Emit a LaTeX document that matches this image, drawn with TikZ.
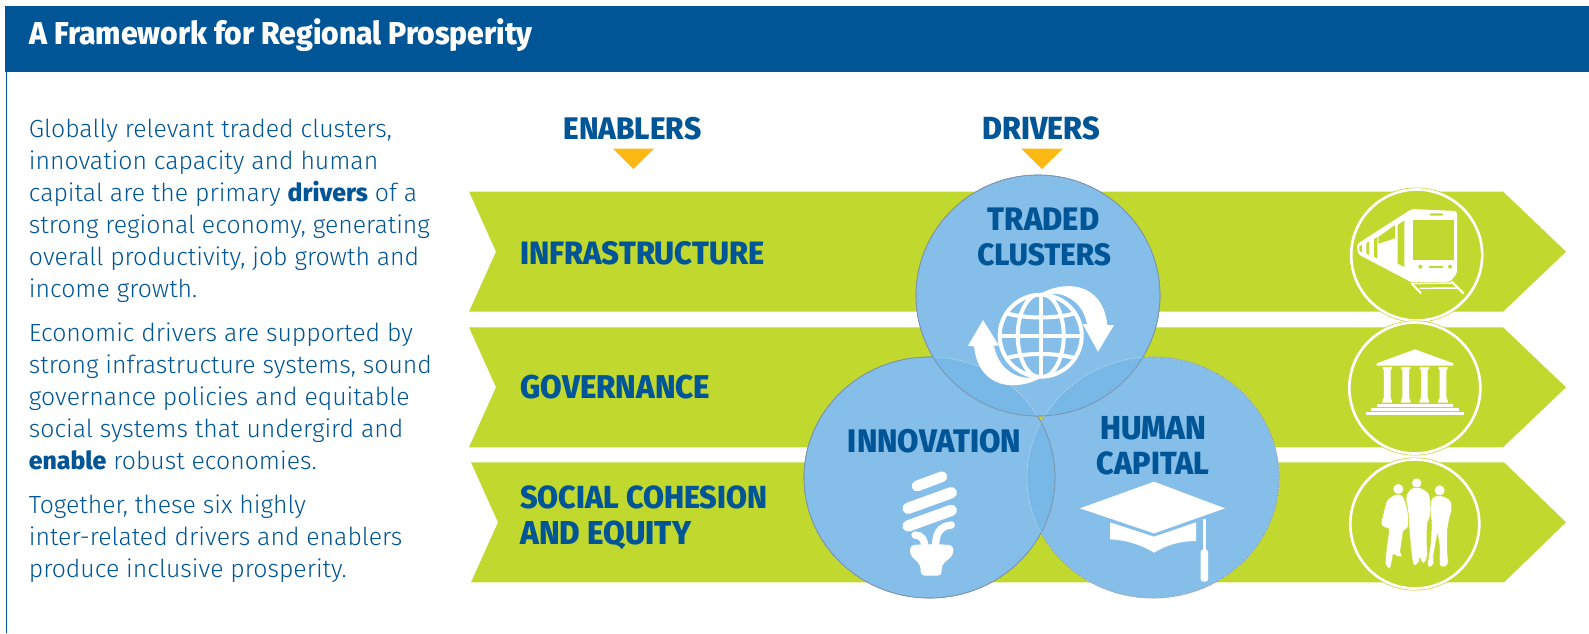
\documentclass[tikz,border=0pt]{standalone}
\usepackage{fontspec}
\setmainfont[BoldFont={Fira Sans ExtraBold}]{Fira Sans Light}
\newfontfamily\heavyfont{Fira Sans ExtraBold}
\definecolor{navy}{HTML}{005596}
\definecolor{lime}{HTML}{C1D82F}
\definecolor{sky}{HTML}{85BFE9}
\definecolor{skyd}{HTML}{78B8E7}
\definecolor{amber}{HTML}{FDB913}
\definecolor{rim}{HTML}{7C93AC}
\newlength{\fitlen}
\newcommand{\fitw}[2]{\setlength{\fitlen}{#1pt}\setlength{\fitlen}{0.75\fitlen}\scalebox{1}[1.05]{\resizebox{\fitlen}{!}{\heavyfont #2}}}
\def\Ctop{(1038,295.5) ellipse [x radius=122,y radius=120.5]}
\def\Cleft{(929.5,477.5) ellipse [x radius=125.5,y radius=120.5]}
\def\Cright{(1153,477.5) ellipse [x radius=126,y radius=120.5]}
\tikzset{
  band/.style={fill=lime,draw=none},
  venn/.style={fill=sky,draw=rim,line width=0.5pt},
  faint/.style={draw=white,draw opacity=.5,line width=0.5pt,dash pattern=on 1pt off 1pt},
  lab/.style={anchor=base west,inner sep=0pt,text=navy},
  body/.style={anchor=north west,inner sep=0pt,text=navy,align=left,font=\fontsize{18.6pt}{24pt}\selectfont},
  ring/.style={fill=lime,draw=white,line width=2pt},
  wline/.style={draw=white,line cap=round},
  gfill/.style={fill=lime,draw=none},
  marker/.style={fill=amber,draw=none},
  person/.style={fill=white,draw=lime,line width=0.3pt,rounded corners=1.5pt},
}
\begin{document}
\begin{tikzpicture}[x=0.75pt,y=-0.75pt]
\useasboundingbox (0,0) rectangle (1589,633);
\fill[white] (0,0) rectangle (1589,633);
% header
\fill[navy] (5,5.5) rectangle (1589,72);
\draw[navy,line width=1.1pt] (6.3,72) -- (6.3,633);
\node[lab,text=white] (title) at (29.4,44) {\fitw{503}{A Framework for Regional Prosperity}};
% text
\node[body] (p1) at (28.6,118.3) {Globally relevant traded clusters,\\innovation capacity and human\\capital are the primary \textbf{drivers} of a\\strong regional economy, generating\\overall productivity, job growth and\\income growth.};
\node[body] (p2) at (28.6,322.3) {Economic drivers are supported by\\strong infrastructure systems, sound\\governance policies and equitable\\social systems that undergird and\\\textbf{enable} robust economies.};
\node[body] (p3) at (28.6,494.3) {Together, these six highly\\inter-related drivers and enablers\\produce inclusive prosperity.};
% column heads
\node[lab] (enablers) at (563.5,139) {\fitw{137.5}{ENABLERS}};
\node[lab] (drivers) at (982,139) {\fitw{117.5}{DRIVERS}};
\fill[marker] (613,148.5) -- (654,148.5) -- (633.5,169) -- cycle;
\fill[marker] (1021,148.5) -- (1063,148.5) -- (1042,169) -- cycle;
% bands
\fill[band] (469,191.5) -- (1503,191.5) -- (1566,251.7) -- (1503,311.7) -- (469,311.7) -- (496,251.7) -- cycle;
\fill[band] (469,327.3) -- (1503,327.3) -- (1566,387.3) -- (1503,447.3) -- (469,447.3) -- (496,387.3) -- cycle;
\fill[band] (471,462.3) -- (1504,462.3) -- (1566,522.3) -- (1504,582.3) -- (471,582.3) -- (498,522.3) -- cycle;
\node[lab] (infra) at (520,264.5) {\fitw{244}{INFRASTRUCTURE}};
\node[lab] (gov) at (520,398) {\fitw{190}{GOVERNANCE}};
\node[lab] (soc) at (520,508.7) {\fitw{247}{SOCIAL COHESION}};
\node[lab] (eq) at (520,544) {\fitw{171}{AND EQUITY}};
% venn
\path[venn] \Cright;
\path[venn] \Cleft;
\begin{scope}\clip \Cleft; \fill[skyd] \Cright; \end{scope}
\draw[faint] \Cright;
\draw[rim,line width=0.5pt] \Cleft;
\path[venn] \Ctop;
\begin{scope}\clip \Ctop;
  \fill[skyd] \Cleft;
  \fill[skyd] \Cright;
  \begin{scope}\clip \Cleft; \fill[sky] \Cright; \end{scope}
  \draw[faint] \Cleft;
  \draw[faint] \Cright;
\end{scope}
\draw[rim,line width=0.5pt] \Ctop;
\node[lab] (traded) at (987.7,230) {\fitw{111.3}{TRADED}};
\node[lab] (clusters) at (977,265) {\fitw{133.7}{CLUSTERS}};
\node[lab] (innov) at (847.7,452.5) {\fitw{173.3}{INNOVATION}};
\node[lab] (human) at (1100,439.3) {\fitw{106}{HUMAN}};
\node[lab] (capital) at (1096.7,474) {\fitw{112.3}{CAPITAL}};
% globe
\begin{scope}[shift={(1040.7,335.7)}]
  \fill[white] (-3,-40.5) .. controls (22,-56) and (62,-55) .. (66.6,-10.7) -- (73.3,-10.7) -- (57.3,16) -- (42,-11.7) -- (46.3,-11.7) .. controls (42,-36) and (20,-46) .. (3,-40.5) -- cycle;
  \fill[white] (3,40.5) .. controls (-22,56) and (-62,55) .. (-66.6,10.7) -- (-72.7,10) -- (-57.7,-15.7) -- (-41.7,10) -- (-46.7,10) .. controls (-42,36) and (-20,46) .. (-3,40.5) -- cycle;
  \fill[sky] (0,0) circle [radius=42];
  \begin{scope}
    \clip (0,0) circle [radius=42];
    \draw[white,line width=3pt] (0,-42) -- (0,42);
    \draw[white,line width=3pt] (0,0) ellipse [x radius=23,y radius=42];
    \draw[white,line width=3pt] (-42,0) -- (42,0);
    \draw[white,line width=3pt] (-42,-25) .. controls (-20,-16) and (20,-16) .. (42,-25);
    \draw[white,line width=3pt] (-42,25) .. controls (-20,16) and (20,16) .. (42,25);
  \end{scope}
  \draw[white,line width=3pt] (0,0) circle [radius=41];
\end{scope}
% bulb
\begin{scope}[shift={(790,400)},x=0.25pt,y=-0.25pt]
  \draw[wline,line width=8pt] (381,258) -- (456,230);
  \draw[wline,line width=8.5pt] (354,325) -- (484,278);
  \draw[wline,line width=8.5pt] (354,378) -- (484,331);
  \draw[wline,line width=5.5pt] (375,405) .. controls (395,405) and (405,420) .. (405,445);
  \draw[wline,line width=5.5pt] (484,375) .. controls (450,378) and (435,400) .. (437,445);
  \fill[white,rounded corners=3pt] (360,436) -- (395,433) -- (455,433) -- (490,436) -- (490,465) -- (455,495) -- (455,527) -- (392,527) -- (392,495) -- (360,465) -- cycle;
\end{scope}
% cap
\begin{scope}[shift={(790,400)},x=0.25pt,y=-0.25pt]
  \fill[white] (870,325) -- (1092,245) -- (1305,325) -- (1092,400) -- cycle;
  \fill[white] (960,367) -- (1092,410) -- (1218,367) -- (1218,423) .. controls (1170,423) and (1130,435) .. (1092,458) .. controls (1055,435) and (1010,420) .. (960,418) -- cycle;
  \fill[white] (1238,357) rectangle (1248,450);
  \fill[white,rounded corners=2pt] (1232,448) -- (1254,448) -- (1254,545) -- (1232,545) -- cycle;
\end{scope}
% train
\path[fill=lime] (1416.7,255) circle [radius=67.5];
\path[ring] (1416.7,255) circle [radius=65.5];
\begin{scope}[shift={(1310,175)},x=0.25pt,y=-0.25pt]
  \fill[white,rounded corners=2pt] (305,102) -- (441,108) -- (441,295) -- (420,320) -- (305,322) -- (145,238) -- (140,208) -- cycle;
  \fill[gfill] (310,134) rectangle (432,255);
  \fill[gfill,rounded corners=1pt] (358,115) rectangle (400,122);
  \fill[gfill] (331,275) circle [radius=6];
  \fill[gfill] (420,275) circle [radius=6];
  \fill[gfill] (358,272) rectangle (400,278);
  \fill[gfill] (263,150) -- (283,136) -- (283,276) -- (263,266) -- cycle;
  \fill[gfill] (205,186) -- (255,150) -- (255,190) -- (205,206) -- cycle;
  \fill[gfill] (192,192) -- (202,186) -- (202,250) -- (192,245) -- cycle;
  \fill[gfill] (169,205) -- (177,199) -- (177,240) -- (169,235) -- cycle;
  \fill[gfill] (148,214) -- (156,209) -- (156,232) -- (148,228) -- cycle;
  \draw[wline,line width=1.6pt] (305,325) -- (332,354);
  \draw[wline,line width=1.6pt] (425,320) -- (460,355);
  \draw[wline,line width=1.1pt] (308,326) -- (425,324);
  \draw[wline,line width=1.1pt] (330,340) -- (442,339);
\end{scope}
% temple
\path[fill=lime] (1414.8,388) circle [radius=67.5];
\path[ring] (1414.8,388) circle [radius=65.5];
\begin{scope}[shift={(1310,310)},x=0.25pt,y=-0.25pt]
  \fill[white] (200,160) -- (315,118) -- (430,160) -- (430,167) -- (200,167) -- cycle;
  \foreach \cx in {231.5,287,343,399}{
    \fill[white] (\cx-14,171) -- (\cx+14,171) -- (\cx+14,177) -- (\cx+10,180) -- (\cx+10,262) -- (\cx+14,272) -- (\cx+15,278) -- (\cx-15,278) -- (\cx-14,272) -- (\cx-10,262) -- (\cx-10,180) -- (\cx-14,177) -- cycle;
  }
  \fill[white] (202,283) rectangle (428,290);
  \fill[white] (183,295) rectangle (447,302);
  \fill[white] (167,307) rectangle (463,314);
\end{scope}
% people
\path[fill=lime] (1414.8,524) circle [radius=66.5];
\path[ring] (1414.8,524) circle [radius=64.5];
\begin{scope}[shift={(1340,450)},x=0.25pt,y=-0.25pt]
  \fill[white] (175,117) circle [radius=15];
  \fill[white] (230,99) circle [radius=14];
  \fill[white] (299,121) circle [radius=15];
  \path[person] (165,133) -- (185,133) -- (195,150) -- (205,190) -- (205,235) -- (190,240) -- (180,310) -- (190,320) -- (170,320) -- (160,310) -- (152,350) -- (150,358) -- (135,345) -- (140,290) -- (148,235) -- (130,232) -- (122,222) -- (130,190) -- (140,150) -- cycle;
  \path[person] (215,113) -- (243,113) -- (268,130) -- (272,165) -- (270,205) -- (262,215) -- (260,260) -- (262,320) -- (255,340) -- (245,340) -- (240,320) -- (236,340) -- (222,348) -- (218,340) -- (212,290) -- (206,215) -- (205,190) -- (197,140) -- (205,125) -- cycle;
  \path[person] (285,137) -- (310,138) -- (332,150) -- (336,178) -- (328,205) -- (322,240) -- (322,300) -- (325,345) -- (305,353) -- (298,345) -- (298,280) -- (292,250) -- (280,320) -- (282,345) -- (265,353) -- (262,345) -- (272,280) -- (275,220) -- (270,180) -- (272,150) -- cycle;
\end{scope}
\end{tikzpicture}
\end{document}
